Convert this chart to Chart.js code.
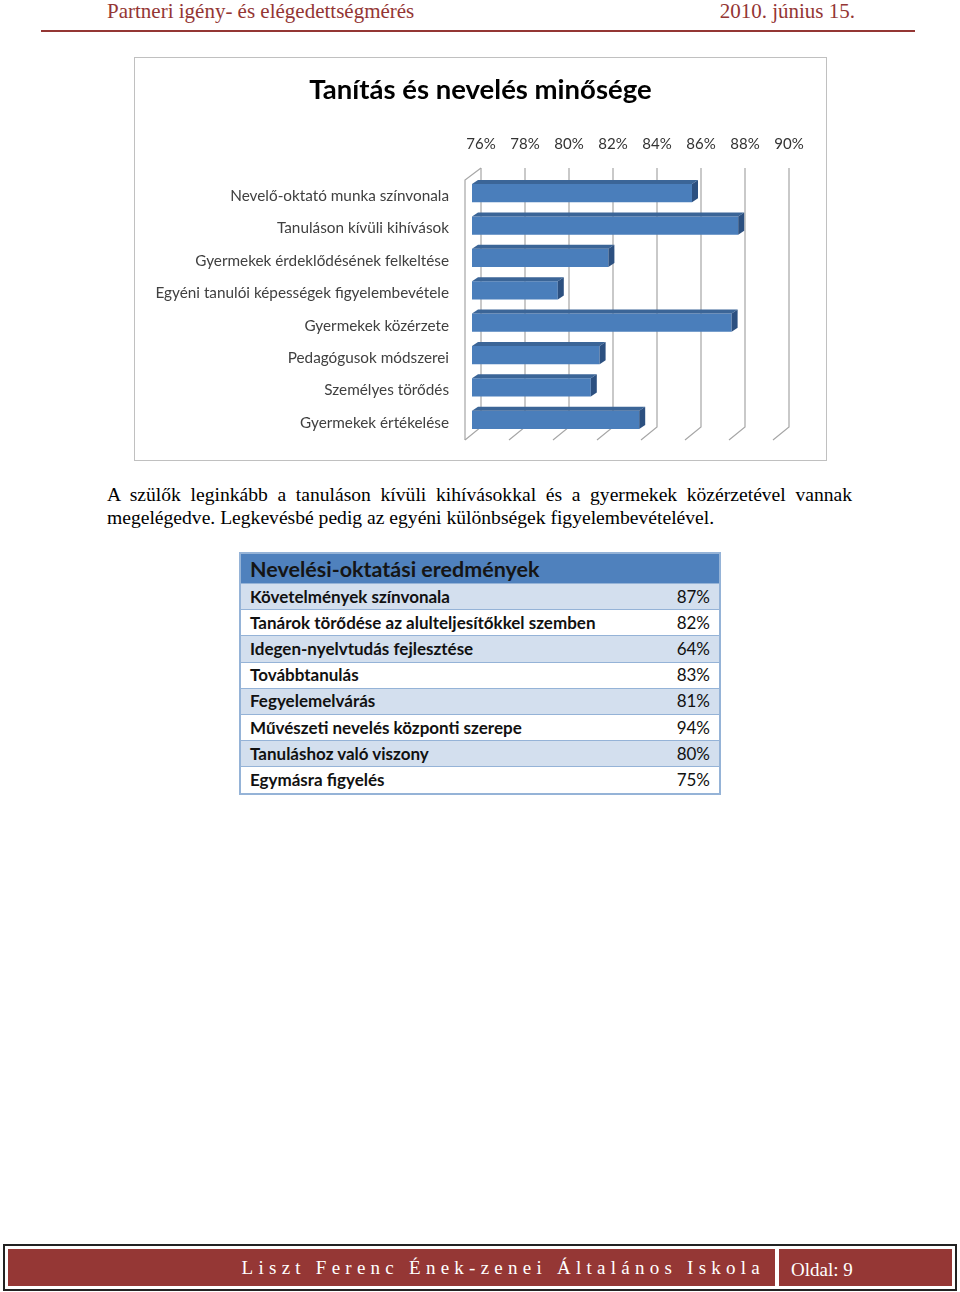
<!DOCTYPE html>
<html lang="hu">
<head>
<meta charset="utf-8">
<script src="https://cdn.jsdelivr.net/npm/chart.js@4.4.1/dist/chart.umd.min.js"></script>
<style>
  body { margin: 0; width: 960px; height: 1292px; background: #fff; position: relative; font-family: "Liberation Serif", serif; }
  .fejlec { position: absolute; top: -1px; left: 107px; width: 748px; height: 26px; color: #943634; font-size: 21px; }
  .fejlec .bal { position: absolute; left: 0; top: 0; }
  .fejlec .jobb { position: absolute; right: 0; top: 0; }
  .vonal { position: absolute; left: 41px; top: 30px; width: 874px; height: 2px; background: #943634; }
  #grafikonDoboz { position: absolute; left: 134px; top: 57px; width: 691px; height: 402px; border: 1px solid #c0c0c0; }
  .szoveg { position: absolute; left: 107px; top: 483px; width: 745px; font-size: 19.6px; line-height: 23px; text-align: justify; color: #000; }
  table { position: absolute; left: 239px; top: 552px; width: 482px; border-collapse: collapse; font-family: Lato, sans-serif; font-weight: bold; font-size: 17px; color: #111; border: 2px solid #95b3d7; }
  table th { background: #4f81bd; text-align: left; font-size: 21.5px; height: 28px; padding: 1px 9px 0; line-height: 27px; color: #151515; }
  table td { height: 25.2px; padding: 0 9px; border-top: 1px solid #95b3d7; line-height: 24px; }
  table tr.paros td { background: #d3dfee; }
  table td.ertek { text-align: right; font-weight: normal; }
  .lablec { position: absolute; left: 3px; top: 1244px; width: 950px; height: 43px; border: 2px solid #222; }
  .lablec .iskola { position: absolute; left: 3px; top: 3px; width: 767px; height: 37px; background: #953735; color: #fff; font-size: 19px; letter-spacing: 5.25px; text-align: right; line-height: 38px; box-sizing: border-box; padding-right: 10px; }
  .lablec .oldal { position: absolute; left: 774px; top: 3px; width: 173px; height: 37px; background: #953735; color: #fff; font-size: 19px; line-height: 42px; padding-left: 12px; box-sizing: border-box; }
</style>
</head>
<body>
<div class="fejlec"><span class="bal">Partneri igény- és elégedettségmérés</span><span class="jobb">2010. június 15.</span></div>
<div class="vonal"></div>

<div id="grafikonDoboz"><canvas id="grafikon"></canvas></div>

<div class="szoveg">A szülők leginkább a tanuláson kívüli kihívásokkal és a gyermekek közérzetével vannak megelégedve. Legkevésbé pedig az egyéni különbségek figyelembevételével.</div>

<table id="eredmenyTabla">
  <thead><tr><th colspan="2">Nevelési-oktatási eredmények</th></tr></thead>
  <tbody></tbody>
</table>

<div class="lablec">
  <div class="iskola">Liszt Ferenc Ének-zenei Általános Iskola</div>
  <div class="oldal">Oldal: 9</div>
</div>

<script>
const kategoriak = [
    "Nevelő-oktató munka színvonala",
    "Tanuláson kívüli kihívások",
    "Gyermekek érdeklődésének felkeltése",
    "Egyéni tanulói képességek figyelembevétele",
    "Gyermekek közérzete",
    "Pedagógusok módszerei",
    "Személyes törődés",
    "Gyermekek értékelése"
];
const ertekek = [86.0, 88.1, 82.2, 79.9, 87.8, 81.8, 81.4, 83.6];
const tengelyMin = 76;
const tengelyMax = 90;
const tengelyLepes = 2;

const tablaSorok = [
    "Követelmények színvonala",
    "Tanárok törődése az alulteljesítőkkel szemben",
    "Idegen-nyelvtudás fejlesztése",
    "Továbbtanulás",
    "Fegyelemelvárás",
    "Művészeti nevelés központi szerepe",
    "Tanuláshoz való viszony",
    "Egymásra figyelés"
];
const tablaErtekek = [87, 82, 64, 83, 81, 94, 80, 75];

// tabla kitoltese
const tbody = document.querySelector("#eredmenyTabla tbody");
tablaSorok.forEach((nev, i) => {
    const tr = document.createElement("tr");
    if (i % 2 === 0) tr.className = "paros";
    tr.innerHTML = `<td>${nev}</td><td class="ertek">${tablaErtekek[i]}%</td>`;
    tbody.appendChild(tr);
});

// 3D hatas: hatfal racs, padlo, oszlopok teteje es oldala
const MELYSEG_X = 9;
const MELYSEG_Y = 9;
const terhatas = {
    id: "terhatas",
    afterLayout(chart) {
        // a cim a teljes vaszon kozepere keruljon
        const t = chart.titleBlock;
        if (t) { t.left = 0; t.right = chart.width; t.width = chart.width; }
    },
    beforeDatasetsDraw(chart) {
        const ctx = chart.ctx;
        const x = chart.scales.x;
        const area = chart.chartArea;
        ctx.save();
        ctx.strokeStyle = "#a6a6a6";
        ctx.lineWidth = 1.2;
        for (let v = tengelyMin; v <= tengelyMax; v += tengelyLepes) {
            const px = x.getPixelForValue(v) + MELYSEG_X;
            const felso = area.top - MELYSEG_Y;
            const also = area.bottom - MELYSEG_Y;
            ctx.beginPath();
            ctx.moveTo(px, felso);
            ctx.lineTo(px, also);
            ctx.lineTo(px - 16, also + 13);
            ctx.stroke();
        }
        // bal fal
        const bal = x.getPixelForValue(tengelyMin);
        ctx.beginPath();
        ctx.moveTo(bal + MELYSEG_X, area.top - MELYSEG_Y);
        ctx.lineTo(bal - 7, area.top + 3);
        ctx.lineTo(bal - 7, area.bottom + 4);
        ctx.stroke();
        ctx.restore();
    },
    afterDatasetsDraw(chart) {
        const ctx = chart.ctx;
        const meta = chart.getDatasetMeta(0);
        const area = chart.chartArea;
        const dx = 6, dy = 4;
        ctx.save();
        meta.data.forEach(bar => {
            const p = bar.getProps(["x", "y", "base", "height"], true);
            const bal = Math.max(p.base, area.left), jobb = p.x;
            const fent = p.y - p.height / 2, lent = p.y + p.height / 2;
            ctx.fillStyle = "#3b6597";
            ctx.beginPath();
            ctx.moveTo(bal, fent);
            ctx.lineTo(bal + dx, fent - dy);
            ctx.lineTo(jobb + dx, fent - dy);
            ctx.lineTo(jobb, fent);
            ctx.closePath();
            ctx.fill();
            ctx.fillStyle = "#2c5080";
            ctx.beginPath();
            ctx.moveTo(jobb, fent);
            ctx.lineTo(jobb + dx, fent - dy);
            ctx.lineTo(jobb + dx, lent - dy);
            ctx.lineTo(jobb, lent);
            ctx.closePath();
            ctx.fill();
        });
        ctx.restore();
    }
};

const ctx = document.getElementById("grafikon").getContext("2d");
new Chart(ctx, {
    type: "bar",
    data: {
        labels: kategoriak,
        datasets: [{
            data: ertekek,
            backgroundColor: "#4a7ebb",
            borderWidth: 0,
            categoryPercentage: 1,
            barPercentage: 0.56
        }]
    },
    options: {
        indexAxis: "y",
        responsive: true,
        maintainAspectRatio: false,
        animation: false,
        layout: { padding: { left: 0, right: 46, top: 0, bottom: 24 } },
        plugins: {
            legend: { display: false },
            tooltip: { enabled: false },
            title: {
                display: true,
                text: "Tanítás és nevelés minősége",
                color: "#000",
                font: { family: "Lato", size: 27.5, weight: "bold" },
                padding: { top: 16, bottom: 4 }
            }
        },
        scales: {
            x: {
                position: "top",
                min: tengelyMin,
                max: tengelyMax,
                grid: { display: false, drawTicks: false },
                border: { display: false },
                ticks: {
                    stepSize: tengelyLepes,
                    labelOffset: MELYSEG_X,
                    padding: 24,
                    color: "#333",
                    font: { family: "Lato", size: 15 },
                    callback: v => v + "%"
                }
            },
            y: {
                grid: { display: false, drawTicks: false },
                border: { display: false },
                afterFit(s) {
                    s.width = 337;
                    s.paddingTop = 0;
                    s.paddingBottom = 0;
                },
                ticks: {
                    padding: 23,
                    labelOffset: 3,
                    color: "#404040",
                    font: { family: "Lato", size: 15.3 }
                }
            }
        }
    },
    plugins: [terhatas]
});
</script>
</body>
</html>
